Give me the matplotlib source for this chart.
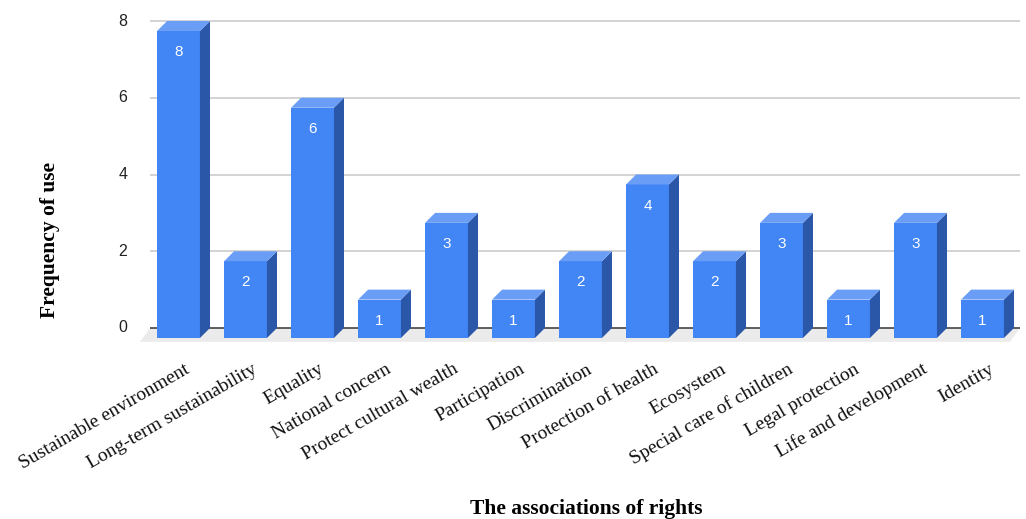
import matplotlib
matplotlib.use("Agg")
import matplotlib.pyplot as plt
from matplotlib.patches import Polygon
from matplotlib.transforms import ScaledTranslation

categories = [
    "Sustainable environment", "Long-term sustainability", "Equality",
    "National concern", "Protect cultural wealth", "Participation",
    "Discrimination", "Protection of health", "Ecosystem",
    "Special care of children", "Legal protection", "Life and development",
    "Identity",
]
frequency = [8, 2, 6, 1, 3, 1, 2, 4, 2, 3, 1, 3, 1]
y_ticks = [0, 2, 4, 6, 8]

FRONT = "#4285F4"
SIDE = "#2B57A8"
TOP = "#6A9DF5"
GRID = "#CCCCCC"
FLOOR = "#EBEBEB"

W, H = 1026, 519
fig = plt.figure(figsize=(W / 100, H / 100), dpi=100)

# axes box in pixels
px_left, px_right, px_top, px_bot = 130, 1022, 10, 350
ax = fig.add_axes([px_left / W, 1 - px_bot / H,
                   (px_right - px_left) / W, (px_bot - px_top) / H])
x0_px, step_px = 178.5, 67.0
y0_px, unit_px = 328.0, 38.375
ax.set_xlim((px_left - x0_px) / step_px, (px_right - x0_px) / step_px)
ax.set_ylim((y0_px - px_bot) / unit_px, (y0_px - px_top) / unit_px)
for s in ax.spines.values():
    s.set_visible(False)
ax.set_xticks([])
ax.set_yticks([])

half = 0.32          # half width of front face
dx, dy = 0.15, 0.26  # depth offset of the 3D extrusion
grid_l, grid_r = -0.425, 12.56

# floor
floor = Polygon([(grid_l - dx, -dy - 0.1), (grid_r - dx, -dy - 0.1),
                 (grid_r, 0), (grid_l, 0)], closed=True,
                facecolor=FLOOR, edgecolor="none", zorder=1)
ax.add_patch(floor)

# gridlines and value axis labels
for t in y_ticks:
    ax.hlines(t, grid_l, grid_r, color=GRID if t else "#444444",
              lw=1.2, zorder=2)
    ax.text(grid_l - 0.34, t, str(t), ha="right", va="center",
            fontsize=11.5, family="Liberation Sans", color="#222222")

# bars
for i, v in enumerate(frequency):
    l, r = i - half, i + half
    front = Polygon([(l, -dy), (r, -dy), (r, v - dy), (l, v - dy)],
                    facecolor=FRONT, edgecolor="none", zorder=4)
    side = Polygon([(r, -dy), (r + dx, 0), (r + dx, v), (r, v - dy)],
                   facecolor=SIDE, edgecolor="none", zorder=4)
    top = Polygon([(l, v - dy), (r, v - dy), (r + dx, v), (l + dx, v)],
                  facecolor=TOP, edgecolor="none", zorder=4)
    for p in (front, side, top):
        ax.add_patch(p)
    ax.text(i, v - dy - 0.55, str(v), ha="center", va="center",
            color="white", fontsize=11, family="Liberation Sans", zorder=5)

# category labels
shift = ScaledTranslation(10 / 100, 0, fig.dpi_scale_trans)
for i, name in enumerate(categories):
    ax.text(i, (y0_px - 368) / unit_px, name, rotation=30,
            rotation_mode="anchor", ha="right", va="center",
            fontsize=14, family="Liberation Serif", color="#111111",
            transform=ax.transData + shift, clip_on=False)

fig.text(50 / W, 1 - 240 / H, "Frequency of use", rotation=90,
         ha="center", va="center", fontsize=15.5, fontweight="bold",
         family="Liberation Serif")
fig.text(586 / W, 1 - 509 / H, "The associations of rights",
         ha="center", va="center", fontsize=15.5, fontweight="bold",
         family="Liberation Serif")

fig.savefig("out.png", dpi=100)
